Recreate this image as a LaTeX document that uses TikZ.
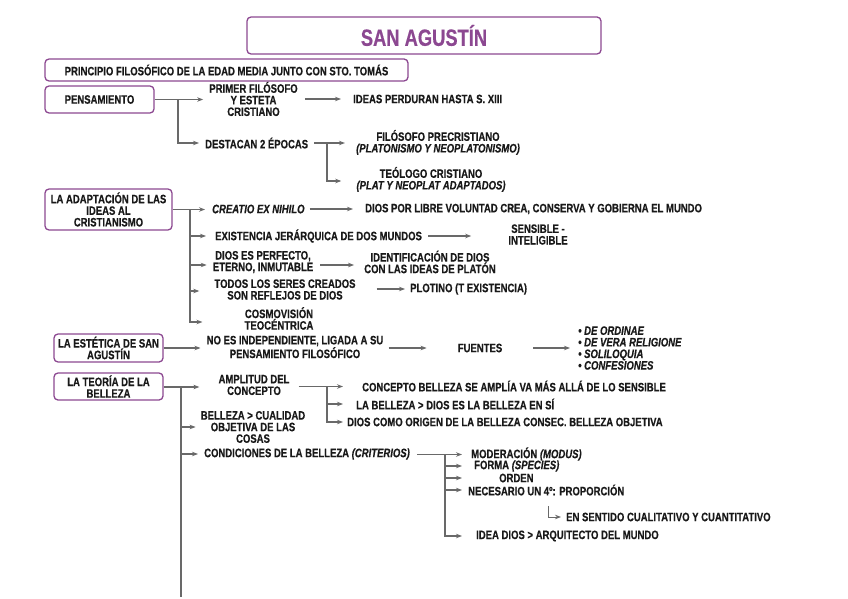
\documentclass[tikz,border=0pt]{standalone}
\usepackage{fontspec}
\setmainfont{Liberation Sans}[FakeStretch=0.78, BoldFeatures={FakeBold=0.45}, BoldItalicFeatures={FakeBold=0.45}]
\usetikzlibrary{arrows.meta}
\definecolor{purp}{RGB}{140,72,145}
\definecolor{lgrey}{RGB}{105,105,105}
\definecolor{txt}{RGB}{25,25,25}
\begin{document}
\begin{tikzpicture}[x=1pt,y=-1pt,
  every node/.style={font=\bfseries\fontsize{12.2}{11.6}\selectfont, text=txt, inner sep=1pt, align=center},
  pbox/.style={draw=purp, line width=1.3pt, rounded corners=4pt, inner sep=0pt},
  arr/.style={draw=lgrey, line width=1.1pt, -{Stealth[length=6pt,width=4.5pt]}},
  ln/.style={draw=lgrey, line width=1.1pt},
  itf/.style={font=\bfseries\itshape\fontsize{12.2}{11.6}\selectfont},
]
\useasboundingbox (0,0) rectangle (848,599);
% boxes
\node[pbox, minimum width=354, minimum height=37, text=purp, font=\bfseries\fontsize{23.5}{23.5}\selectfont] (title) at (424,35.5) {SAN AGUSTÍN};
\node[pbox, minimum width=363, minimum height=22] (princ) at (226.5,70) {PRINCIPIO FILOSÓFICO DE LA EDAD MEDIA JUNTO CON STO. TOMÁS};
\node[pbox, minimum width=109, minimum height=27] (pens) at (99.5,99.5) {PENSAMIENTO};
\node[pbox, minimum width=127, minimum height=41] (adap) at (108.5,209.5) {LA ADAPTACIÓN DE LAS\\IDEAS AL\\CRISTIANISMO};
\node[pbox, minimum width=109, minimum height=28] (est) at (108.5,348) {LA ESTÉTICA DE SAN\\AGUSTÍN};
\node[pbox, minimum width=109, minimum height=27] (teo) at (108.5,386.5) {LA TEORÍA DE LA\\BELLEZA};

% pensamiento
\node (primer) at (253.5,99) {PRIMER FILÓSOFO\\Y ESTETA\\CRISTIANO};
\node[anchor=west] (ideas) at (352,99) {IDEAS PERDURAN HASTA S. XIII};
\node[anchor=west] (destacan) at (204,143) {DESTACAN 2 ÉPOCAS};
\node (filo) at (438,142.5) {FILÓSOFO PRECRISTIANO\\\textit{(PLATONISMO Y NEOPLATONISMO)}};
\node (teol) at (431,179.5) {TEÓLOGO CRISTIANO\\\textit{(PLAT Y NEOPLAT ADAPTADOS)}};

\coordinate (j1) at (178,99.5);
\draw[ln] (pens.east) -- (j1);
\draw[arr, shorten >=5pt] (j1) -- (primer.west |- j1);
\draw[arr, shorten >=5pt] (j1) |- (destacan.west);
\draw[arr, shorten <=6pt, shorten >=11pt] (primer.east |- ideas.west) -- (ideas.west);
\coordinate (j2) at (327,143);
\draw[ln, shorten <=5pt] (destacan.east) -- (j2);
\draw[arr, shorten >=10pt] (j2) -- (filo.west |- j2);
\draw[arr, shorten >=14pt] (j2) |- (teol.west |- 0,181);

% adaptacion
\node[anchor=west, itf] (creatio) at (211,209) {CREATIO EX NIHILO};
\node[anchor=west] (dioslib) at (364,209) {DIOS POR LIBRE VOLUNTAD CREA, CONSERVA Y GOBIERNA EL MUNDO};
\node[anchor=west] (exist) at (214,236) {EXISTENCIA JERÁRQUICA DE DOS MUNDOS};
\node (sensib) at (538,234.5) {SENSIBLE -\\INTELIGIBLE};
\node (perf) at (263,262) {DIOS ES PERFECTO,\\ETERNO, INMUTABLE};
\node (ident) at (430,262) {IDENTIFICACIÓN DE DIOS\\CON LAS IDEAS DE PLATÓN};
\node (todos) at (285,289.5) {TODOS LOS SERES CREADOS\\SON REFLEJOS DE DIOS};
\node[anchor=west] (plot) at (409,289) {PLOTINO (T EXISTENCIA)};
\node (cosmo) at (279,318.5) {COSMOVISIÓN\\TEOCÉNTRICA};

\coordinate (j3) at (190,209.5);
\draw[ln] (adap.east |- j3) -- (j3);
\draw[arr, shorten >=6pt] (j3) -- (creatio.west |- j3);
\draw[arr, shorten >=8pt] (j3) |- (exist.west);
\draw[arr, shorten >=5pt] (j3) |- (perf.west |- 0,265);
\draw[arr, shorten >=14pt] (j3) |- (todos.west |- 0,291);
\draw[arr, shorten >=41pt] (j3) |- (cosmo.west |- 0,322);
\draw[arr, shorten <=4pt, shorten >=11pt] (creatio.east) -- (dioslib.west);
\draw[arr, shorten <=5pt, shorten >=36pt] (exist.east) -- (sensib.west |- exist.east);
\draw[arr, shorten <=6pt, shorten >=9pt] (perf.east |- 0,265) -- (ident.west |- 0,265);
\draw[arr, shorten <=20pt, shorten >=4pt] (todos.east |- plot.west) -- (plot.west);

% estetica
\node (noes) at (295,347) {NO ES INDEPENDIENTE, LIGADA A SU\\PENSAMIENTO FILOSÓFICO};
\node (fuentes) at (480,348) {FUENTES};
\node[anchor=west, align=left, itf] (fuen) at (577,348) {• DE ORDINAE\\• DE VERA RELIGIONE\\• SOLILOQUIA\\• CONFESIONES};
\draw[arr, shorten >=5pt] (est.east) -- (noes.west |- est.east);
\draw[arr, shorten <=4pt, shorten >=30pt] (noes.east |- fuentes.west) -- (fuentes.west);
\draw[arr, shorten <=30pt, shorten >=7pt] (fuentes.east) -- (fuen.west);

% teoria
\node (ampl) at (254,385) {AMPLITUD DEL\\CONCEPTO};
\node (cual) at (253,427) {BELLEZA > CUALIDAD\\OBJETIVA DE LAS\\COSAS};
\node[anchor=west] (cond) at (203,454) {CONDICIONES DE LA BELLEZA \textit{(CRITERIOS)}};
\node[anchor=west] (concb) at (361,386) {CONCEPTO BELLEZA SE AMPLÍA VA MÁS ALLÁ DE LO SENSIBLE};
\node[anchor=west] (label) at (355,404) {LA BELLEZA > DIOS ES LA BELLEZA EN SÍ};
\node[anchor=west] (dcomo) at (346,422) {DIOS COMO ORIGEN DE LA BELLEZA CONSEC. BELLEZA OBJETIVA};
\node[anchor=west] (moder) at (470,454) {MODERACIÓN \textit{(MODUS)}};
\node[anchor=west] (forma) at (473,466) {FORMA \textit{(SPECIES)}};
\node[anchor=west] (orden) at (498,478) {ORDEN};
\node[anchor=west] (neces) at (467,490) {NECESARIO UN 4º: PROPORCIÓN};
\node[anchor=west] (sent) at (565,517) {EN SENTIDO CUALITATIVO Y CUANTITATIVO};
\node[anchor=west] (idea) at (475,536) {IDEA DIOS > ARQUITECTO DEL MUNDO};

\coordinate (j5) at (181,387);
\coordinate (tb) at (181,597);
\draw[ln] (teo.east |- j5) -- (j5) -- (tb);
\draw[arr, shorten >=18pt] (j5) -- (ampl.west |- j5);
\draw[arr, shorten >=4pt] (j5) |- (cual.west);
\draw[arr, shorten >=5pt] (j5) |- (cond.west);

\coordinate (j6) at (327,386.5);
\draw[ln, shorten <=8pt] (ampl.east |- j6) -- (j6);
\draw[arr, shorten >=18pt] (j6) -- (concb.west |- j6);
\draw[arr, shorten >=12pt] (j6) |- (label.west);
\draw[arr, shorten >=3pt] (j6) |- (dcomo.west);

\coordinate (j7) at (445,454.5);
\draw[ln, shorten <=6pt] (cond.east |- j7) -- (j7);
\draw[arr, shorten >=8pt] (j7) -- (moder.west |- j7);
\draw[arr, shorten >=11pt] (j7) |- (forma.west);
\draw[arr, shorten >=36pt] (j7) |- (orden.west);
\draw[arr, shorten >=5pt] (j7) |- (neces.west);
\draw[arr, shorten >=13pt] (j7) |- (idea.west);
\coordinate (k) at (548,506);
\draw[arr, line width=0.9pt, shorten >=4pt] (k) |- (sent.west);
\end{tikzpicture}
\end{document}
